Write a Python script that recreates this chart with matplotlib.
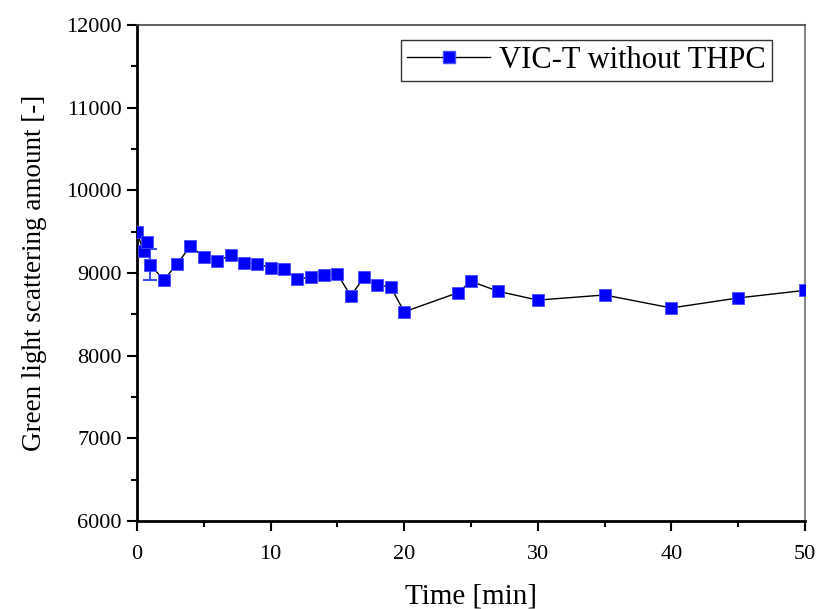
import matplotlib
matplotlib.use("Agg")
import matplotlib.pyplot as plt
from matplotlib.ticker import MultipleLocator

plt.rcParams['font.family'] = ['Liberation Serif', 'DejaVu Serif']

# Time [min] and green light scattering amount
time_min = [0, 0.5, 0.75, 1, 2, 3, 4, 5, 6, 7, 8, 9, 10, 11, 12, 13, 14, 15,
            16, 17, 18, 19, 20, 24, 25, 27, 30, 35, 40, 45, 50]
scatter = [9490, 9260, 9370, 9100, 8915, 9110, 9325, 9195, 9145, 9215, 9125,
           9110, 9065, 9050, 8925, 8950, 8978, 8990, 8720, 8950, 8855, 8830,
           8530, 8760, 8900, 8780, 8672, 8734, 8577, 8698, 8790]
err = [0, 0, 0, 190] + [0] * (len(time_min) - 4)

fig = plt.figure(figsize=(8.18, 6.09), dpi=100)
ax = fig.add_axes([0.1675, 0.1445, 0.8165, 0.8145])

ax.plot(time_min, scatter, color='black', lw=1.0, zorder=2)
ax.errorbar(time_min[3:4], scatter[3:4], yerr=err[3:4], fmt='none',
            ecolor='#3a4fe8', elinewidth=1.5, capsize=5, capthick=1.5, zorder=2)
ax.plot(time_min, scatter, ls='none', marker='s', ms=8, color='#0000ff',
        markeredgecolor='#4a4aff', markeredgewidth=0.6, zorder=3)
# legend handle
ax.plot([], [], color='black', lw=1.0, marker='s', ms=8,
        markerfacecolor='#0000ff', markeredgecolor='#4a4aff',
        label='VIC-T without THPC')

ax.set_xlim(0, 50)
ax.set_ylim(6000, 12000)
ax.xaxis.set_major_locator(MultipleLocator(10))
ax.xaxis.set_minor_locator(MultipleLocator(5))
ax.yaxis.set_major_locator(MultipleLocator(1000))
ax.yaxis.set_minor_locator(MultipleLocator(500))

ax.tick_params(which='both', direction='out', width=1.5, labelsize=16,
               top=False, right=False)
ax.tick_params(which='major', length=7)
ax.tick_params(which='minor', length=4)
ax.tick_params(axis='x', which='major', pad=10)
ax.tick_params(axis='y', which='major', pad=4)

ax.spines['left'].set_linewidth(2)
ax.spines['bottom'].set_linewidth(2)
ax.spines['top'].set_linewidth(1.2)
ax.spines['top'].set_color('#444444')
ax.spines['right'].set_linewidth(1.5)
ax.spines['right'].set_color('#888888')

ax.set_xlabel('Time [min]', fontsize=21, labelpad=14)
ax.set_ylabel('Green light scattering amount [-]', fontsize=19.5, labelpad=14)

leg = ax.legend(loc='upper right', fontsize=22, frameon=True, fancybox=False,
                edgecolor='black', handlelength=2.7, handletextpad=0.3,
                borderpad=0.2, borderaxespad=0,
                bbox_to_anchor=(0.9506, 0.970))
leg.get_frame().set_linewidth(1.0)

fig.savefig('out.png', dpi=100)
